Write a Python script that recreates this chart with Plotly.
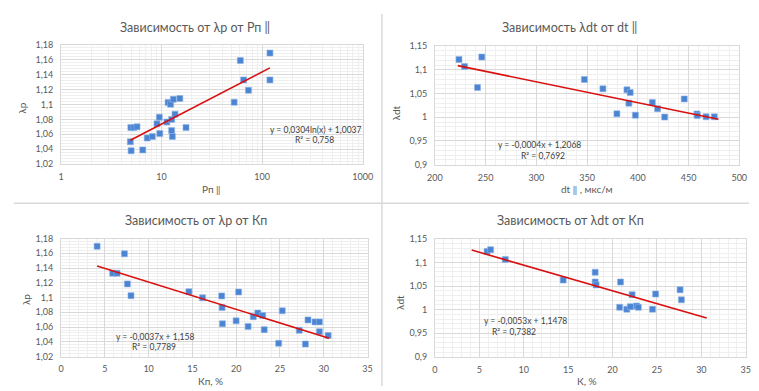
import numpy as np
import plotly.graph_objects as go

W, H = 759, 391

# ---------------- data ----------------
# Panel 1: λр vs Рп (log x)
p1_x = [4.89, 4.98, 4.95, 5.3, 5.7, 6.5, 7.2, 8.1, 9.0, 9.5, 9.6, 11.3, 11.6, 12.3, 12.6, 12.6, 12.8,
        13.1, 13.6, 15.2, 17.5, 52.7, 60.7, 65.4, 73.1, 119.6, 119.6]
p1_y = [1.050, 1.038, 1.069, 1.069, 1.070, 1.039, 1.055, 1.057, 1.074, 1.083, 1.061, 1.0765, 1.1026,
        1.1004, 1.080, 1.065, 1.057, 1.107, 1.087, 1.108, 1.069, 1.103, 1.159, 1.133, 1.119, 1.169, 1.133]
p1_coef = [0.0304, 1.0037]  # a*ln(x)+b

# Panel 2: λdt vs dt
p2_x = [223.7, 229.2, 242.0, 246.2, 347.3, 365.6, 379.4, 389.3, 392.5, 391.2, 397.6, 414.3, 419.5,
        426.5, 445.8, 458.3, 458.6, 467.3, 475.4]
p2_y = [1.122, 1.107, 1.063, 1.127, 1.0796, 1.060, 1.0073, 1.0578, 1.0523, 1.0298, 1.0045, 1.0311,
        1.018, 1.0004, 1.0387, 1.0069, 1.0035, 1.0010, 1.0010]
p2_coef = [-0.00044, 1.2068]
p2_range = [222.5, 479.5]

# Panel 3: λр vs Кп
p3_x = [4.12, 7.24, 5.9, 6.4, 7.58, 7.99, 14.6, 16.16, 18.35, 18.39, 18.43, 19.99, 20.28, 21.36, 21.95,
        22.47, 23.03, 23.2, 24.85, 25.26, 27.2, 27.9, 28.2, 29.0, 29.5, 29.5, 30.5]
p3_y = [1.1695, 1.1593, 1.133, 1.133, 1.1185, 1.1026, 1.108, 1.0996, 1.1022, 1.0864, 1.0644, 1.0684,
        1.1075, 1.0609, 1.0741, 1.0789, 1.0758, 1.0565, 1.038, 1.082, 1.0556, 1.037, 1.0697, 1.067,
        1.067, 1.0538, 1.0486]
p3_coef = [-0.0037, 1.158]
p3_range = [4.12, 30.6]

# Panel 4: λdt vs К
p4_x = [5.87, 6.27, 7.92, 14.44, 18.04, 18.04, 18.15, 20.8, 20.9, 21.6, 22.0, 22.2, 22.7, 22.9, 24.5,
        24.85, 27.6, 27.75]
p4_y = [1.1232, 1.1273, 1.1067, 1.0628, 1.0793, 1.0587, 1.0525, 1.0051, 1.0587, 1.001, 1.0065, 1.0319,
        1.0078, 1.0051, 1.001, 1.0332, 1.0422, 1.0209]
p4_coef = [-0.00545, 1.149]
p4_range = [4.14, 30.6]

titles = ["Зависимость от λр от Рп ‖", "Зависимость λdt от dt ‖",
          "Зависимость от λр от Кп", "Зависимость от λdt от Кп"]
xtitles = ["Рп ‖", "dt ‖ , мкс/м", "Кп, %", "К, %"]
ytitles = ["λр", "λdt", "λр", "λdt"]
eqs = [("y = 0,0304ln(x) + 1,0037", "R² = 0,758"),
       ("y = -0,0004x + 1,2068", "R² = 0,7692"),
       ("y = -0,0037x + 1,158", "R² = 0,7789"),
       ("y = -0,0053x + 1,1478", "R² = 0,7382")]

y_rho_ticks = [1.02, 1.04, 1.06, 1.08, 1.10, 1.12, 1.14, 1.16, 1.18]
y_rho_text = ["1,02", "1,04", "1,06", "1,08", "1,1", "1,12", "1,14", "1,16", "1,18"]
y_dt_ticks = [0.90, 0.95, 1.00, 1.05, 1.10, 1.15]
y_dt_text = ["0,9", "0,95", "1", "1,05", "1,1", "1,15"]
x_log_ticks = [1, 10, 100, 1000]
x_dt_ticks = [200, 250, 300, 350, 400, 450, 500]
x_k_ticks = [0, 5, 10, 15, 20, 25, 30, 35]

# ---------------- layout helpers ----------------
def fx(px):
    return px / W

def fy(py):
    return 1 - py / H

FONT = "Lato"
BLUE = "#4a84d2"
RED = "#d91010"
GRID = "#d9d9d9"
MINOR = "#efefef"
TXT = "#595959"

domains = [
    ((54.3, 363.3), (40.0, 162.7)),
    ((437.3, 749.0), (41.3, 163.3)),
    ((54.3, 368.3), (239.3, 360.7)),
    ((437.3, 755.7), (239.7, 361.0)),
]

fig = go.Figure()

series = [(p1_x, p1_y), (p2_x, p2_y), (p3_x, p3_y), (p4_x, p4_y)]
for i, (xs, ys) in enumerate(series):
    ax = "" if i == 0 else str(i + 1)
    fig.add_trace(go.Scatter(x=xs, y=ys, mode="markers", xaxis="x" + ax, yaxis="y" + ax,
                             marker=dict(symbol="square", size=6, color=BLUE,
                                         line=dict(width=0.6, color="#8fb4e6")),
                             showlegend=False))

# trendlines
t1x = np.geomspace(min(p1_x), max(p1_x), 60)
t1y = p1_coef[0] * np.log(t1x) + p1_coef[1]
fig.add_trace(go.Scatter(x=t1x, y=t1y, mode="lines", line=dict(color=RED, width=1.6),
                         xaxis="x", yaxis="y", showlegend=False))
for i, (coef, rng) in enumerate([(p2_coef, p2_range), (p3_coef, p3_range), (p4_coef, p4_range)]):
    ax = str(i + 2)
    tx = np.array(rng)
    ty = coef[0] * tx + coef[1]
    fig.add_trace(go.Scatter(x=tx, y=ty, mode="lines", line=dict(color=RED, width=1.6),
                             xaxis="x" + ax, yaxis="y" + ax, showlegend=False))

tickfont = dict(family=FONT, size=9, color=TXT)

def xaxis_cfg(dom, **kw):
    d = dict(domain=[fx(dom[0]), fx(dom[1])], showgrid=True, gridcolor=GRID, gridwidth=1,
             showline=True, linecolor=GRID, mirror=True, zeroline=False, ticks="",
             tickfont=tickfont, ticklabelstandoff=4, fixedrange=True)
    d.update(kw)
    return d

def yaxis_cfg(dom, **kw):
    d = dict(domain=[fy(dom[1]), fy(dom[0])], showgrid=True, gridcolor=GRID, gridwidth=1,
             showline=True, linecolor=GRID, mirror=True, zeroline=False, ticks="",
             tickfont=tickfont, ticklabelstandoff=5, fixedrange=True)
    d.update(kw)
    return d

minor_log = [m * 10 ** e for e in range(0, 3) for m in range(2, 10)]

layout = dict(
    width=W, height=H, margin=dict(l=0, r=0, t=0, b=0),
    paper_bgcolor="white", plot_bgcolor="white", separators=", ",
    font=dict(family=FONT, color=TXT),
)
layout["xaxis"] = xaxis_cfg(domains[0][0], type="log", range=[0, 3], anchor="y",
                            tickvals=x_log_ticks, ticktext=[str(v) for v in x_log_ticks],
                            minor=dict(tickvals=minor_log, showgrid=True, gridcolor=MINOR, ticks=""))
layout["yaxis"] = yaxis_cfg(domains[0][1], range=[1.02, 1.18], anchor="x",
                            tickvals=y_rho_ticks, ticktext=y_rho_text,
                            minor=dict(dtick=0.004, showgrid=True, gridcolor=MINOR, ticks=""))
layout["xaxis2"] = xaxis_cfg(domains[1][0], range=[200, 500], anchor="y2",
                             tickvals=x_dt_ticks, ticktext=[str(v) for v in x_dt_ticks],
                             minor=dict(dtick=10, showgrid=True, gridcolor=MINOR, ticks=""))
layout["yaxis2"] = yaxis_cfg(domains[1][1], range=[0.9, 1.15], anchor="x2",
                             tickvals=y_dt_ticks, ticktext=y_dt_text,
                             minor=dict(dtick=0.01, showgrid=True, gridcolor=MINOR, ticks=""))
layout["xaxis3"] = xaxis_cfg(domains[2][0], range=[0, 35], anchor="y3",
                             tickvals=x_k_ticks, ticktext=[str(v) for v in x_k_ticks],
                             minor=dict(dtick=1, showgrid=True, gridcolor=MINOR, ticks=""))
layout["yaxis3"] = yaxis_cfg(domains[2][1], range=[1.02, 1.18], anchor="x3",
                             tickvals=y_rho_ticks, ticktext=y_rho_text,
                             minor=dict(dtick=0.004, showgrid=True, gridcolor=MINOR, ticks=""))
layout["xaxis4"] = xaxis_cfg(domains[3][0], range=[0, 35], anchor="y4",
                             tickvals=x_k_ticks, ticktext=[str(v) for v in x_k_ticks],
                             minor=dict(dtick=1, showgrid=True, gridcolor=MINOR, ticks=""))
layout["yaxis4"] = yaxis_cfg(domains[3][1], range=[0.9, 1.15], anchor="x4",
                             tickvals=y_dt_ticks, ticktext=y_dt_text,
                             minor=dict(dtick=0.01, showgrid=True, gridcolor=MINOR, ticks=""))
fig.update_layout(**layout)

# text positions (pixels)
title_pos = [(192, 22), (575, 22), (193, 221), (576, 221)]
xt_pos = [(208, 188), (593, 188), (207, 386), (593, 386)]
yt_pos = [(14, 105), (397, 110), (18, 302), (402, 305)]
eq_pos = [((315, 128), (314, 138)), ((544, 143), (548, 154)),
          ((151, 341), (150, 351)), ((530, 324), (518, 335))]

ann = []
for i in range(4):
    ann.append(dict(text=titles[i], x=fx(title_pos[i][0]), y=fy(title_pos[i][1]), xref="paper",
                    yref="paper", showarrow=False, xanchor="center", yanchor="middle",
                    font=dict(family=FONT, size=12.5, color=TXT)))
    ann.append(dict(text=xtitles[i], x=fx(xt_pos[i][0]), y=fy(xt_pos[i][1]), xref="paper",
                    yref="paper", showarrow=False, xanchor="center", yanchor="middle",
                    font=dict(family=FONT, size=10, color=TXT)))
    ann.append(dict(text=ytitles[i], x=fx(yt_pos[i][0]), y=fy(yt_pos[i][1]), xref="paper",
                    yref="paper", showarrow=False, xanchor="center", yanchor="middle", textangle=-90,
                    font=dict(family=FONT, size=10, color=TXT)))
    for (t, p) in zip(eqs[i], eq_pos[i]):
        ann.append(dict(text=t, x=fx(p[0]), y=fy(p[1]), xref="paper", yref="paper",
                        showarrow=False, xanchor="center", yanchor="middle",
                        font=dict(family=FONT, size=8.5, color="#404040")))
fig.update_layout(annotations=ann)

# panel separators
fig.update_layout(shapes=[
    dict(type="line", xref="paper", yref="paper", x0=fx(383), x1=fx(383), y0=fy(8), y1=fy(391),
         line=dict(color=GRID, width=1.5)),
    dict(type="line", xref="paper", yref="paper", x0=fx(6), x1=1, y0=fy(203), y1=fy(203),
         line=dict(color=GRID, width=1.5)),
])

fig.write_html("out.html")
